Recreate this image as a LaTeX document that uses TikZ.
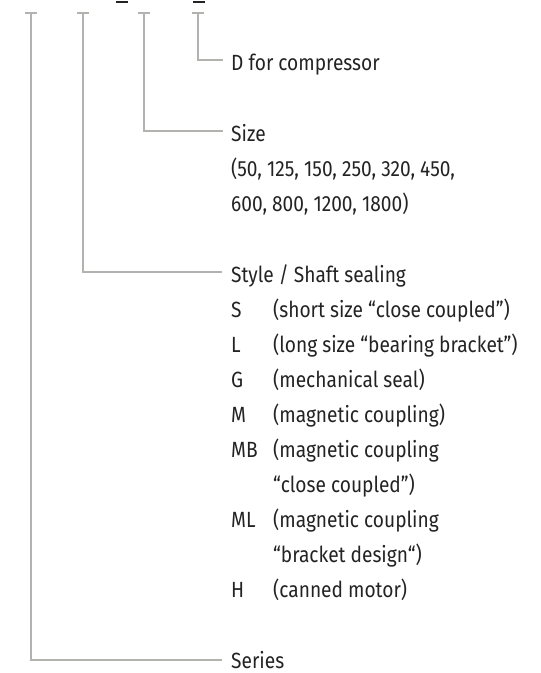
\documentclass[tikz,border=0pt]{standalone}
\usepackage{fontspec}
\setmainfont[FakeStretch=0.87]{Fira Sans}
\definecolor{linegray}{RGB}{178,178,174}
\definecolor{textgray}{RGB}{35,35,35}
\begin{document}
\begin{tikzpicture}[x=1pt,y=-1pt,
  conn/.style={draw=linegray, line width=2pt},
  lbl/.style={anchor=base west, inner sep=0pt, text=textgray, font=\fontsize{22}{26}\selectfont},
  cutmark/.style={draw=textgray, line width=1.3pt}]
\useasboundingbox (0,0) rectangle (541,673);
% cut-off marks at the top
\draw[cutmark] (116,2) -- (128,2);
\draw[cutmark] (193,2) -- (205,2);
% tops of the brackets
\coordinate (t1) at (31,13);
\coordinate (t2) at (83,13);
\coordinate (t3) at (144,13);
\coordinate (t4) at (198,13);
\foreach \t in {t1,t2,t3,t4}
  \draw[conn] ([xshift=-6pt]\t) -- ([xshift=6pt]\t);
% labels
\def\ca{231}
\def\cb{273}
\node[lbl] (comp) at (\ca,70) {D for compressor};
\node[lbl] (size) at (\ca,141) {Size};
\node[lbl] (size2) at (\ca,176) {(50, 125, 150, 250, 320, 450,};
\node[lbl] (size3) at (\ca,211) {600, 800, 1200, 1800)};
\node[lbl] (style) at (\ca,282) {Style / Shaft sealing};
\node[lbl] (kS) at (\ca,317) {S};   \node[lbl] (dS) at (\cb,317) {(short size “close coupled”)};
\node[lbl] (kL) at (\ca,352) {L};   \node[lbl] (dL) at (\cb,352) {(long size “bearing bracket”)};
\node[lbl] (kG) at (\ca,387) {G};   \node[lbl] (dG) at (\cb,387) {(mechanical seal)};
\node[lbl] (kM) at (\ca,422) {M};   \node[lbl] (dM) at (\cb,422) {(magnetic coupling)};
\node[lbl] (kMB) at (\ca,457) {MB}; \node[lbl] (dMB) at (\cb,457) {(magnetic coupling};
\node[lbl] (dMB2) at (\cb,492) {“close coupled”)};
\node[lbl] (kML) at (\ca,527) {ML}; \node[lbl] (dML) at (\cb,527) {(magnetic coupling};
\node[lbl] (dML2) at (\cb,562) {“bracket design“)};
\node[lbl] (kH) at (\ca,597) {H};   \node[lbl] (dH) at (\cb,597) {(canned motor)};
\node[lbl] (series) at (\ca,668) {Series};
% connectors
\draw[conn] (t4) |- ([xshift=-8pt,yshift=10pt]comp.base west);
\draw[conn] (t3) |- ([xshift=-8pt,yshift=10pt]size.base west);
\draw[conn] (t2) |- ([xshift=-9pt,yshift=10pt]style.base west);
\draw[conn] (t1) |- ([xshift=-9pt,yshift=8pt]series.base west);
\end{tikzpicture}
\end{document}
